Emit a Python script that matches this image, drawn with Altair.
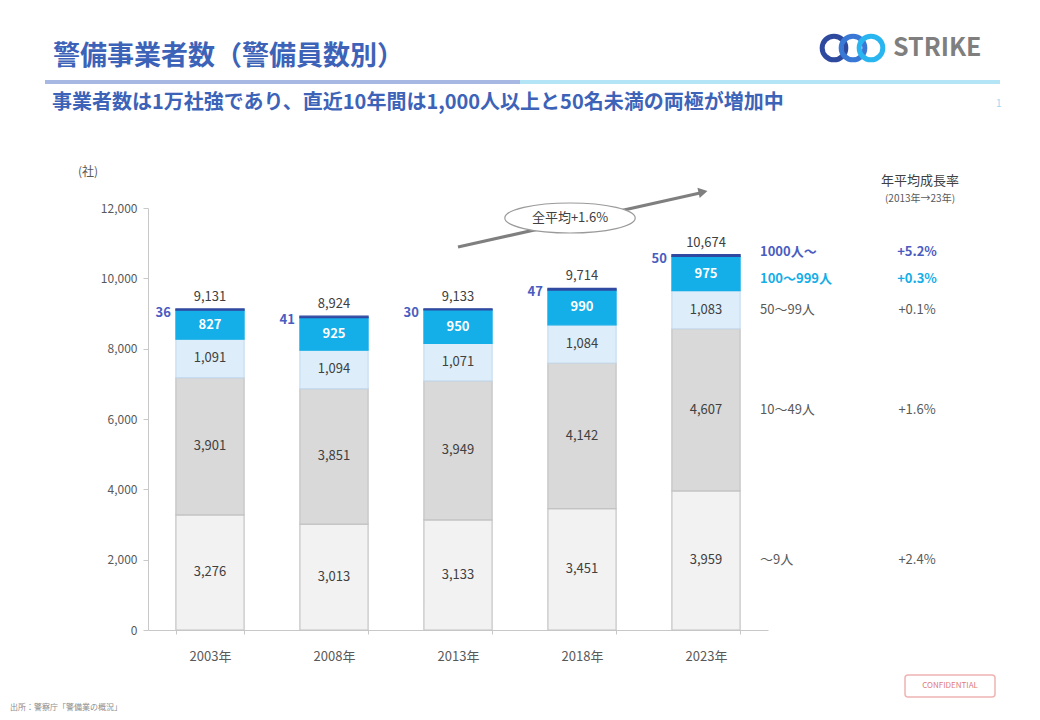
import altair as alt
import pandas as pd

# ---------------- data ----------------
years = ["2003年", "2008年", "2013年", "2018年", "2023年"]
categories = ["〜9人", "10〜49人", "50〜99人", "100〜999人", "1000人〜"]
s_0_9 = [3276, 3013, 3133, 3451, 3959]
s_10_49 = [3901, 3851, 3949, 4142, 4607]
s_50_99 = [1091, 1094, 1071, 1084, 1083]
s_100_999 = [827, 925, 950, 990, 975]
s_1000 = [36, 41, 30, 47, 50]
totals = [9131, 8924, 9133, 9714, 10674]
cagr = ["+2.4%", "+1.6%", "+0.1%", "+0.3%", "+5.2%"]
y_ticks = [0, 2000, 4000, 6000, 8000, 10000, 12000]

series = [s_0_9, s_10_49, s_50_99, s_100_999, s_1000]
rows = []
for ci, (cat, vals) in enumerate(zip(categories, series)):
    for y, v in zip(years, vals):
        rows.append({"year": y, "cat": cat, "ord": ci, "value": v, "cagr": cagr[ci]})
df = pd.DataFrame(rows)
df_tot = pd.DataFrame({"year": years, "total": totals})

FONT = "Noto Sans CJK JP"
GRAY = "#595959"
DARK = "#404040"
NAVY_TXT = "#4a5cc0"
CYAN = "#14aee8"

fills = ["#f2f2f2", "#d9d9d9", "#ddeefa", CYAN, "#2f4aa0"]
strokes = ["#c3c3c3", "#c3c3c3", "#c6dcf0", CYAN, "#2f4aa0"]

X = alt.X(
    "year:N",
    sort=years,
    scale=alt.Scale(paddingInner=0.45, paddingOuter=0.225),
    axis=alt.Axis(
        title=None, labelAngle=0, tickBand="extent", domainColor="#c8c8c8",
        tickColor="#c8c8c8", tickSize=4, labelPadding=16, labelFontSize=13,
        labelColor=GRAY, labelFont=FONT,
    ),
)
YSC = alt.Scale(domain=[0, 12000], nice=False)
YAX = alt.Axis(
    title=None, values=y_ticks, format=",.0f", grid=False,
    domainColor="#c8c8c8", tickColor="#c8c8c8", tickSize=5,
    labelColor=GRAY, labelFontSize=12, labelPadding=6, labelFont=FONT,
)


def Yf(field):
    return alt.Y(field, scale=YSC, axis=YAX)


stacked = alt.Chart(df).transform_stack(
    stack="value", groupby=["year"], sort=[alt.SortField("ord")], as_=["y0", "y1"]
).transform_calculate(mid="(datum.y0 + datum.y1) / 2")

bars = stacked.mark_bar(strokeWidth=1.2).encode(
    x=X,
    y=Yf("y0:Q"),
    y2="y1:Q",
    fill=alt.Fill("cat:N", scale=alt.Scale(domain=categories, range=fills), legend=None),
    stroke=alt.Stroke("cat:N", scale=alt.Scale(domain=categories, range=strokes), legend=None),
)

inner_dark = stacked.transform_filter("datum.ord <= 2").mark_text(
    fontSize=13, color=DARK, font=FONT
).encode(x=X, y=Yf("mid:Q"), text=alt.Text("value:Q", format=","))

inner_white = stacked.transform_filter("datum.ord == 3").mark_text(
    fontSize=13, color="white", fontWeight="bold", font=FONT
).encode(x=X, y=Yf("mid:Q"), text=alt.Text("value:Q", format=","))

top_small = stacked.transform_filter("datum.ord == 4").mark_text(
    fontSize=13, color=NAVY_TXT, fontWeight="bold", align="right", dx=-5, dy=4, font=FONT
).encode(
    x=alt.X("year:N", sort=years, bandPosition=0),
    y=Yf("y1:Q"),
    text=alt.Text("value:Q", format=","),
)

total_lbl = alt.Chart(df_tot).mark_text(
    fontSize=13, color=DARK, dy=-12, font=FONT
).encode(x=X, y=Yf("total:Q"), text=alt.Text("total:Q", format=","))

last = stacked.transform_filter(alt.datum.year == years[-1])


def side_labels(cond, color, dy, bold):
    w = "bold" if bold else "normal"
    a = last.transform_filter(cond).mark_text(
        fontSize=13, color=color, align="left", dy=dy, fontWeight=w, font=FONT
    ).encode(x=alt.value(612), y=Yf("mid:Q"), text="cat:N")
    b = last.transform_filter(cond).mark_text(
        fontSize=13, color=color, align="center", dy=dy, fontWeight=w, font=FONT
    ).encode(x=alt.value(769), y=Yf("mid:Q"), text="cagr:N")
    return [a, b]


side = (
    side_labels("datum.ord == 4", NAVY_TXT, -4, True)
    + side_labels("datum.ord == 3", CYAN, 5, True)
    + side_labels("datum.ord <= 2", GRAY, 0, False)
)

one = pd.DataFrame({"k": [0]})


def txt(s, x, y, size=12, color=DARK, align="left", weight="normal", baseline="middle"):
    return alt.Chart(one).mark_text(
        text=s, fontSize=size, color=color, align=align, fontWeight=weight,
        baseline=baseline, font=FONT,
    ).encode(x=alt.value(x), y=alt.value(y))


def rule(x1, x2, y, color, w):
    return alt.Chart(one).mark_rule(color=color, strokeWidth=w).encode(
        x=alt.value(x1), x2=alt.value(x2), y=alt.value(y)
    )


def ring(x, y, color):
    return alt.Chart(one).mark_point(
        shape="circle", filled=False, size=560, strokeWidth=5, color=color, opacity=1
    ).encode(x=alt.value(x), y=alt.value(y))


deco = [
    txt("警備事業者数（警備員数別）", -95, -151, size=27, color="#3d63b8", weight="bold"),
    rule(-103, 372, -126, "#a7b9e2", 4),
    rule(372, 852, -126, "#b3e5f7", 4),
    txt("事業者数は1万社強であり、直近10年間は1,000人以上と50名未満の両極が増加中",
        -96, -105, size=20, color="#3d63b8", weight="bold"),
    txt("1", 848, -104, size=10, color="#9fd8f0"),
    ring(686, -160, "#2e4a9e"),
    ring(705, -160, "#3a78d6"),
    ring(723, -160, "#29b6f0"),
    txt("STRIKE", 745, -160, size=25, color="#7f7f7f", weight="bold"),
    txt("(社)", -60, -36, size=12, color=GRAY, align="center"),
    txt("年平均成長率", 772, -27, size=13, color=DARK, align="center"),
    txt("(2013年→23年)", 772, -9, size=10, color=GRAY, align="center"),
    alt.Chart(one).mark_rule(color="#7f7f7f", strokeWidth=3).encode(
        x=alt.value(310), x2=alt.value(552), y=alt.value(39), y2=alt.value(-15)
    ),
    alt.Chart(one).mark_point(
        shape="triangle-right", filled=True, size=110, angle=347.5, color="#7f7f7f", opacity=1
    ).encode(x=alt.value(555), y=alt.value(-16)),
    alt.Chart(one).mark_point(
        shape="M -1 0 A 1 0.23 0 1 0 1 0 A 1 0.23 0 1 0 -1 0 Z",
        filled=True, fill="white", stroke="#9a9a9a", strokeWidth=1.2, size=17000, opacity=1,
    ).encode(x=alt.value(422), y=alt.value(10)),
    txt("全平均+1.6%", 422, 10, size=13, color=DARK, align="center"),
    txt("出所：警察庁「警備業の概況」", -138, 500, size=8, color="#8c8c8c"),
    alt.Chart(one).mark_rect(
        fill="white", stroke="#f0b4b4", strokeWidth=1.5, cornerRadius=3
    ).encode(x=alt.value(757), x2=alt.value(847), y=alt.value(467), y2=alt.value(489)),
    txt("CONFIDENTIAL", 802, 478, size=8, color="#e07a7a", align="center"),
]

chart = alt.layer(
    bars, inner_dark, inner_white, top_small, total_lbl, *side, *deco
).properties(
    width=620, height=422,
    padding={"left": 140, "top": 200, "right": 264, "bottom": 82},
    autosize=alt.AutoSizeParams(type="none"),
    background="white",
).configure(font=FONT, view=alt.ViewConfig(stroke=None))

chart.save("out.html", embed_options={"renderer": "svg", "actions": False})
